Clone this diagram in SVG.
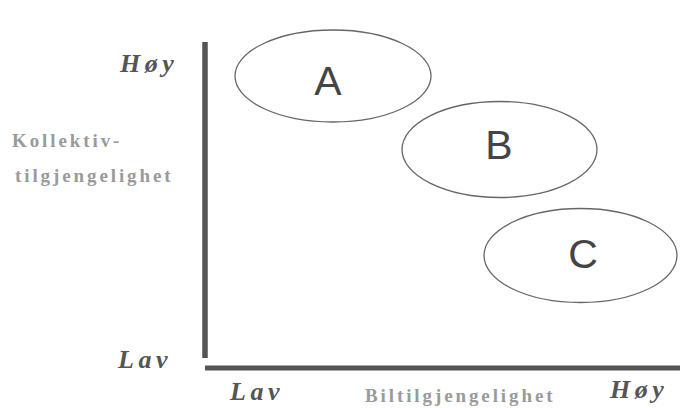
<svg xmlns="http://www.w3.org/2000/svg" width="680" height="408" viewBox="0 0 680 408">
<style>
.lvl{font-family:"Liberation Serif",serif;font-style:italic;font-weight:bold;font-size:26px;fill:#555;letter-spacing:4.5px}
.ax{font-family:"Liberation Serif",serif;font-weight:bold;font-size:19px;fill:#9a9a9a;letter-spacing:2.9px}
.el{fill:#fff;stroke:#666;stroke-width:1.3}
.lt{font-family:"Liberation Sans",sans-serif;font-size:41px;fill:#444;text-anchor:middle}
.axis{stroke:#555;fill:none}
</style>
<rect width="680" height="408" fill="#fff"/>
<g id="axes">
<line class="axis" x1="205" y1="42" x2="205" y2="358" stroke-width="5.5"/>
<line class="axis" x1="205" y1="368" x2="680" y2="368" stroke-width="5"/>
</g>
<g id="labels">
<text class="lvl" x="120" y="72">Høy</text>
<text class="lvl" x="118" y="368">Lav</text>
<text class="lvl" x="230" y="400">Lav</text>
<text class="lvl" x="610" y="398">Høy</text>
<text class="ax" x="12" y="147">Kollektiv-</text>
<text class="ax" x="15" y="182">tilgjengelighet</text>
<text class="ax" x="365" y="402">Biltilgjengelighet</text>
</g>
<g id="A">
<ellipse class="el" cx="333" cy="76" rx="98" ry="46"/>
<text class="lt" x="328" y="95">A</text>
</g>
<g id="B">
<ellipse class="el" cx="499.5" cy="149.5" rx="97.5" ry="48"/>
<text class="lt" x="499" y="159">B</text>
</g>
<g id="C">
<ellipse class="el" cx="580.5" cy="255.5" rx="96.5" ry="47"/>
<text class="lt" x="583" y="268">C</text>
</g>
</svg>
